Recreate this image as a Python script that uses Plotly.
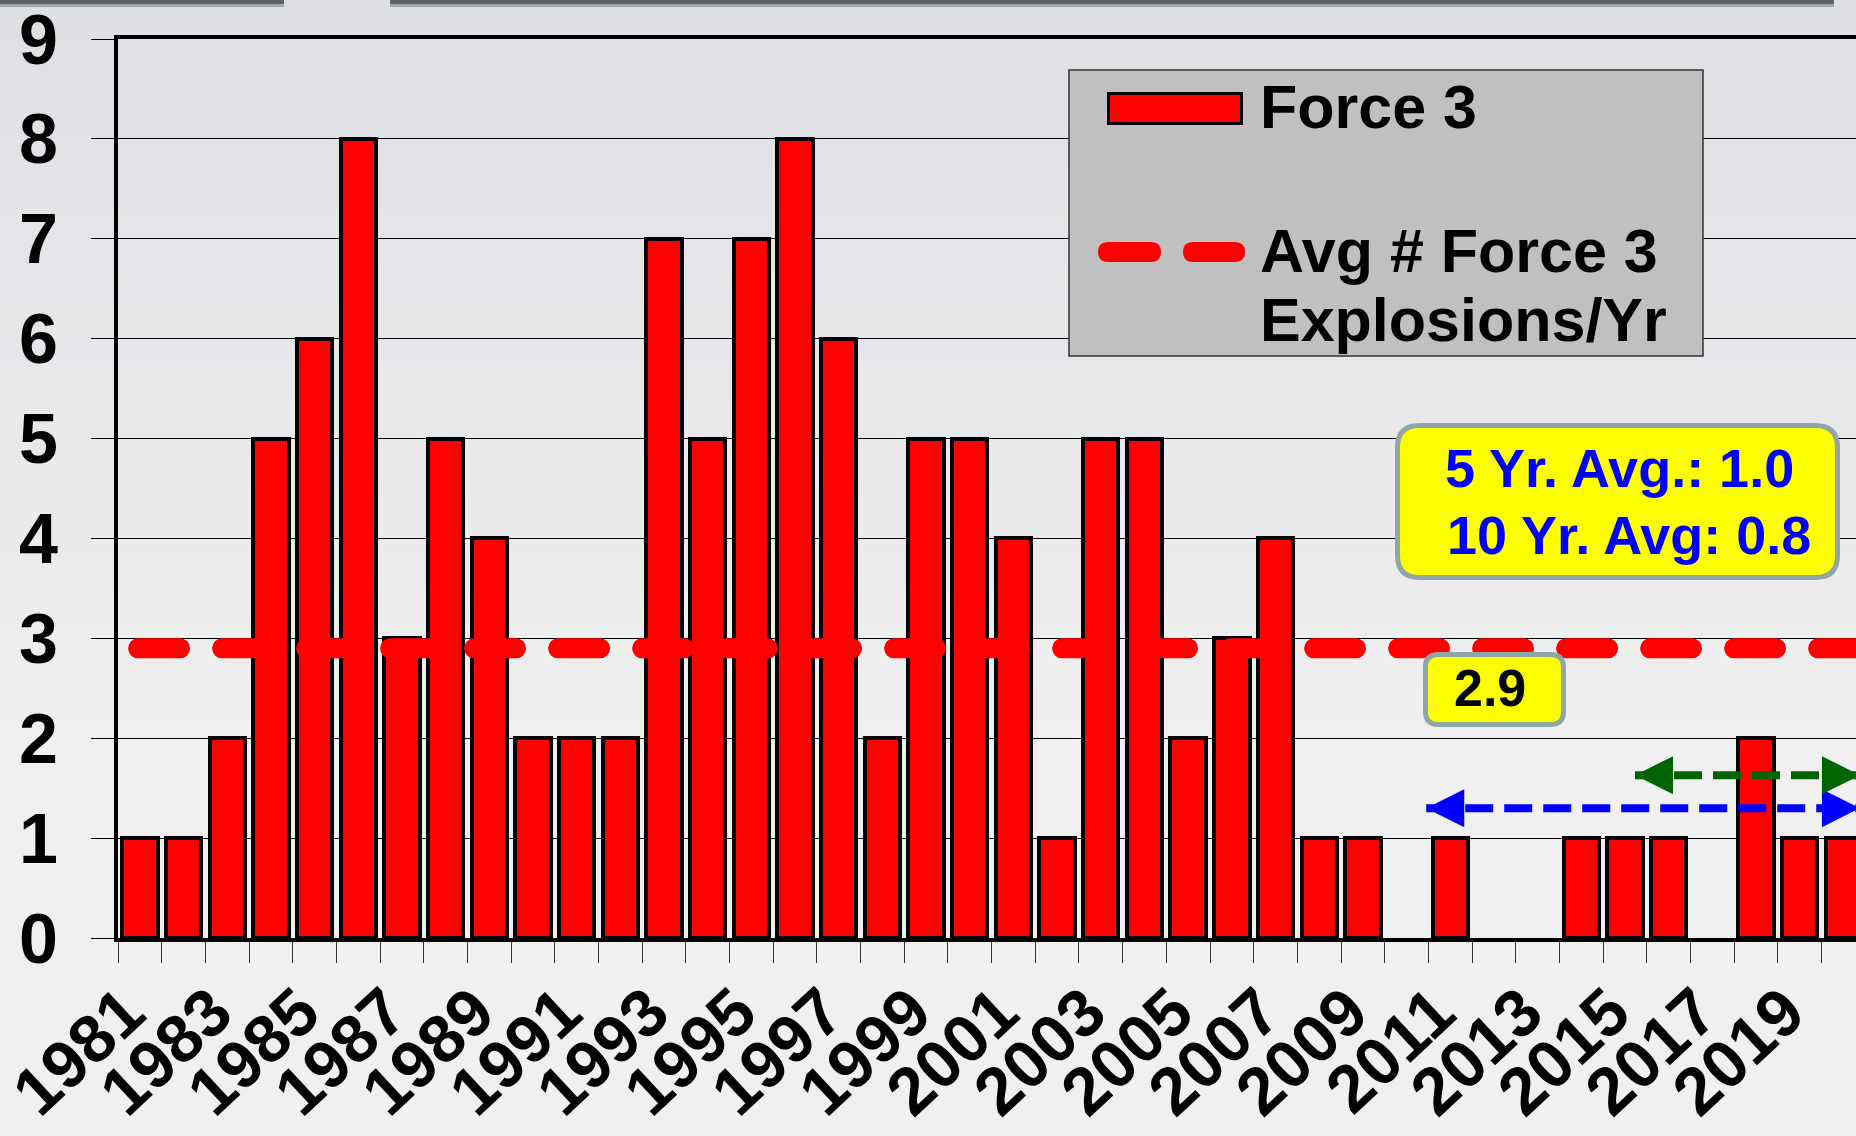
import plotly.graph_objects as go

# ---------------- data ----------------
years = list(range(1981, 2021))
force3_counts = [1, 1, 2, 5, 6, 8, 3, 5, 4, 2,
                 2, 2, 7, 5, 7, 8, 6, 2, 5, 5,
                 4, 1, 5, 5, 2, 3, 4, 1, 1, 0,
                 1, 0, 0, 1, 1, 1, 0, 2, 1, 1]
avg_value = 2.9
avg_5yr = 1.0
avg_10yr = 0.8
x_tick_years = list(range(1981, 2020, 2))
x_tick_labels = [str(y) for y in x_tick_years]
y_tick_values = list(range(0, 10))

series_name = "Force 3"
avg_name_lines = ["Avg # Force 3", "Explosions/Yr"]

# horizontal extents of average line and the 5/10-year range arrows (in years)
avg_line_x = [1980.96, 2020.6]
ten_yr_arrow_x = [2010.45, 2020.38]
five_yr_arrow_x = [2015.23, 2020.38]
ten_yr_arrow_y = 1.30
five_yr_arrow_y = 1.63

# ---------------- layout geometry ----------------
W, H = 1856, 1136
ML, MR, MT, MB = 118, 0, 39, 198
PW, PH = W - ML - MR, H - MT - MB
PITCH = 43.68  # px per year
x_range = [1980.5, 1980.5 + PW / PITCH]
LABEL_SHIFT = -0.32  # visual offset of slanted year labels (in years)

FONT = "Liberation Sans, Arial, sans-serif"


def px(x):
    return (x - ML) / PW


def py(y):
    return (H - MB - y) / PH


def rrect_path(x0, y0, x1, y1, r):
    """Rounded rectangle in pixel coords -> paper path."""
    def P(x, y):
        return f"{px(x):.5f},{py(y):.5f}"
    return (f"M{P(x0 + r, y0)} L{P(x1 - r, y0)} Q{P(x1, y0)} {P(x1, y0 + r)} "
            f"L{P(x1, y1 - r)} Q{P(x1, y1)} {P(x1 - r, y1)} "
            f"L{P(x0 + r, y1)} Q{P(x0, y1)} {P(x0, y1 - r)} "
            f"L{P(x0, y0 + r)} Q{P(x0, y0)} {P(x0 + r, y0)} Z")


fig = go.Figure()

fig.add_trace(go.Bar(
    x=years, y=[v if v else None for v in force3_counts], width=0.81, name=series_name,
    marker=dict(color="#FF0000", line=dict(color="#000000", width=4)),
    showlegend=False,
))

fig.add_trace(go.Scatter(
    x=avg_line_x, y=[avg_value] * len(avg_line_x), mode="lines",
    name=" ".join(avg_name_lines),
    line=dict(color="#FF0000", width=20, dash="42px,42px"),
    showlegend=False,
))

for xs, yv, col in [(ten_yr_arrow_x, ten_yr_arrow_y, "#0000FF"),
                    (five_yr_arrow_x, five_yr_arrow_y, "#006400")]:
    fig.add_trace(go.Scatter(
        x=xs, y=[yv] * len(xs), mode="lines+markers",
        line=dict(color=col, width=8, dash="28px,11px"),
        marker=dict(symbol=["arrow-left", "arrow-right"], size=38, color=col,
                    line=dict(width=0)),
        showlegend=False,
    ))

shapes = []
# background gradient stripes
n = 40
top_c, bot_c = (222, 224, 228), (240, 240, 240)
y_start, y_end = 0, 760
for i in range(n):
    t = i / (n - 1)
    c = tuple(round(top_c[k] + (bot_c[k] - top_c[k]) * t) for k in range(3))
    ya = y_start + (y_end - y_start) * i / n
    yb = y_start + (y_end - y_start) * (i + 1) / n + 1
    shapes.append(dict(type="rect", xref="paper", yref="paper", layer="below",
                       x0=px(0), x1=px(W), y0=py(yb), y1=py(ya),
                       fillcolor=f"rgb{c}", line=dict(width=0)))
# top dark strip (screen artifact)
for xa, xb in [(0, 284), (390, 1834)]:
    shapes.append(dict(type="rect", xref="paper", yref="paper", layer="below",
                       x0=px(xa), x1=px(xb), y0=py(7), y1=py(4),
                       fillcolor="#A4A7AB", line=dict(width=0)))
    shapes.append(dict(type="rect", xref="paper", yref="paper", layer="below",
                       x0=px(xa), x1=px(xb), y0=py(4), y1=py(0),
                       fillcolor="#5F6267", line=dict(width=0)))

# legend box
shapes.append(dict(type="rect", xref="paper", yref="paper", layer="above",
                   x0=px(1069), x1=px(1703), y0=py(356), y1=py(70),
                   fillcolor="#C0C0C0", line=dict(color="#333333", width=1.5)))
shapes.append(dict(type="rect", xref="paper", yref="paper", layer="above",
                   x0=px(1108.5), x1=px(1241.5), y0=py(123.5), y1=py(93.5),
                   fillcolor="#FF0000", line=dict(color="#000000", width=3)))
for xa, xb in [(1098, 1161), (1183, 1245)]:
    shapes.append(dict(type="path", xref="paper", yref="paper", layer="above",
                       path=rrect_path(xa, 242, xb, 262, 10),
                       fillcolor="#FF0000", line=dict(width=0)))

# yellow info boxes
shapes.append(dict(type="path", xref="paper", yref="paper", layer="above",
                   path=rrect_path(1397.5, 425.5, 1837.5, 577.5, 22),
                   fillcolor="#FFFF00", line=dict(color="#8FA6A8", width=5)))
shapes.append(dict(type="path", xref="paper", yref="paper", layer="above",
                   path=rrect_path(1425.5, 654.5, 1563.5, 724.5, 13),
                   fillcolor="#FFFF00", line=dict(color="#8FA6A8", width=5)))

annotations = []


def ann(text, x, y, size, color, xanchor="left"):
    annotations.append(dict(text=text, x=px(x), y=py(y), xref="paper", yref="paper",
                            xanchor=xanchor, yanchor="middle", showarrow=False,
                            font=dict(family=FONT, size=size, color=color, weight="bold")))


ann(series_name, 1258, 107, 61, "#000000")
ann(avg_name_lines[0], 1258, 251, 61, "#000000")
ann(avg_name_lines[1], 1258, 320, 61, "#000000")
ann(f"5 Yr. Avg.: {avg_5yr:.1f}", 1443, 468, 54, "#0000FF")
ann(f"10 Yr. Avg: {avg_10yr:.1f}", 1445, 534.5, 54, "#0000FF")
ann(f"{avg_value:.1f}", 1490, 688, 52, "#000000", xanchor="center")

fig.update_layout(
    template="none",
    width=W, height=H,
    margin=dict(l=ML, r=MR, t=MT, b=MB, pad=0, autoexpand=False),
    paper_bgcolor="#F0F0F0",
    plot_bgcolor="rgba(0,0,0,0)",
    showlegend=False,
    bargap=0,
    shapes=shapes,
    annotations=annotations,
    font=dict(family=FONT),
)

fig.update_xaxes(
    type="linear", range=x_range, automargin=False,
    tickmode="array", tickvals=[y + LABEL_SHIFT for y in x_tick_years],
    ticktext=x_tick_labels,
    tickangle=-43, ticklabeloverflow="allow",
    tickfont=dict(family=FONT, size=67, color="#000000", weight="bold"),
    ticks="", ticklabelstandoff=4,
    showline=True, linecolor="#000000", linewidth=4, mirror=True,
    showgrid=False, zeroline=False,
    minor=dict(tick0=1980.5, dtick=1, ticks="outside", ticklen=21,
               tickwidth=1, tickcolor="#333333", showgrid=False),
)

fig.update_yaxes(
    range=[0, 9], tickmode="array", tickvals=y_tick_values, automargin=False,
    tickfont=dict(family=FONT, size=70, color="#000000", weight="bold"),
    ticks="outside", ticklen=23, tickwidth=1, tickcolor="#000000",
    ticklabelstandoff=19,
    showline=True, linecolor="#000000", linewidth=4,
    showgrid=True, gridcolor="#000000", gridwidth=1, zeroline=False,
)

post = """
document.body.style.margin = '0';
document.body.style.overflow = 'hidden';
try {
  var tr = document.querySelectorAll('.scatterlayer .trace')[0];
  tr.querySelectorAll('path.js-line').forEach(function(p){ p.style.strokeLinecap = 'round'; });
} catch (e) {}
"""

fig.write_html("out.html", post_script=post, config={"displayModeBar": False})
